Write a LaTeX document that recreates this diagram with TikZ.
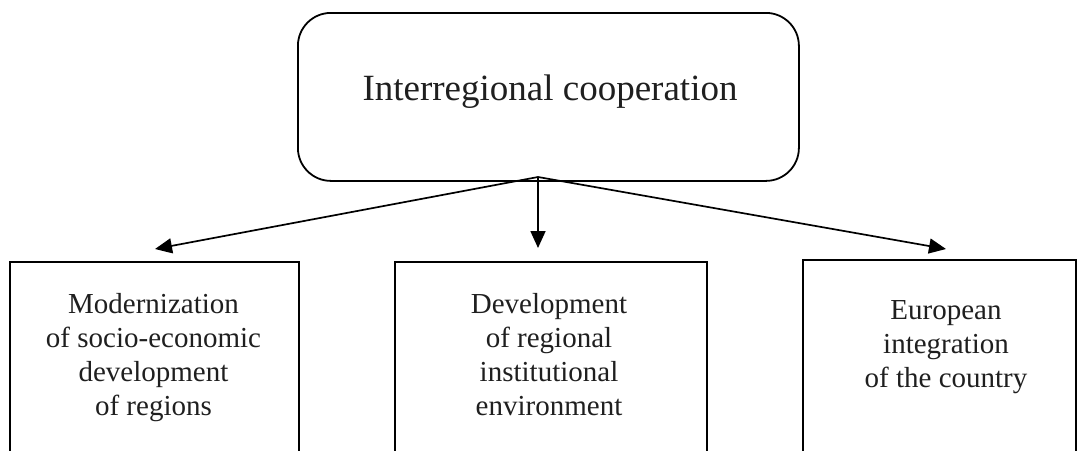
\documentclass[tikz,border=0pt]{standalone}
\usepackage{fontspec}
\setmainfont{Liberation Serif}
\usetikzlibrary{arrows.meta}
\begin{document}
\begin{tikzpicture}[x=1pt,y=-1pt,
  frame/.style={draw, line width=1.8pt, inner sep=0pt, anchor=north west},
  boxtext/.style={align=center, inner sep=0pt, anchor=base, text=black!88,
    font=\fontsize{29}{34}\selectfont},
  link/.style={line width=1.7pt, -{Triangle[length=17pt,width=15pt]}}]
  \useasboundingbox (0,0) rectangle (1078,450);
  \clip (0,0) rectangle (1078,450);

  % top box
  \node[frame, rounded corners=33pt, minimum width=501pt, minimum height=168pt] (top) at (297,12) {};
  \node[inner sep=0pt, anchor=base, text=black!88, font=\fontsize{37}{44}\selectfont] (title) at (550,100) {Interregional cooperation};

  % lower boxes (running off the lower edge)
  \node[frame, minimum width=289pt, minimum height=220pt] (left) at (9,261) {};
  \node[frame, minimum width=312pt, minimum height=220pt] (mid) at (394,261) {};
  \node[frame, minimum width=273pt, minimum height=220pt] (right) at (802,259) {};

  % anchor=base puts the last line on the given y
  \node[boxtext] (lefttext) at (153.5,415) {Modernization\\of socio-economic\\development\\of regions};
  \node[boxtext] (midtext) at (549,415) {Development\\of regional\\institutional\\environment};
  \node[boxtext] (righttext) at (946,387) {European\\integration\\of the country};

  % arrows
  \coordinate (apex) at (538,177);
  \coordinate (tipL) at (155,249);
  \coordinate (tipM) at (538,248);
  \coordinate (tipR) at (946,249);
  \draw[link] (apex) -- (tipL);
  \draw[link] (apex) -- (tipM);
  \draw[link] (apex) -- (tipR);
\end{tikzpicture}
\end{document}
